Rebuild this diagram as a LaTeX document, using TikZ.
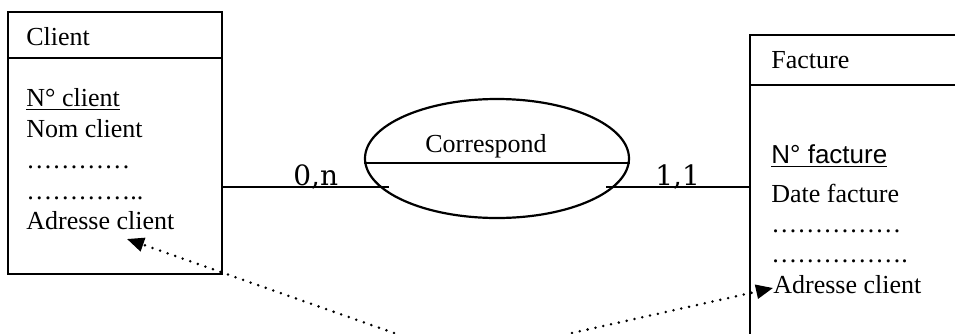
\documentclass[tikz,border=0pt]{standalone}
\usepackage{fontspec}
\setmainfont{Liberation Serif}
\newfontfamily\arialfont{Liberation Sans}
\newfontfamily\cardfont{DejaVu Serif}
\usetikzlibrary{arrows.meta, shapes.geometric}

\begin{document}
\begin{tikzpicture}[x=0.5pt, y=-0.5pt,
    entity/.style={rectangle, draw, line width=1.1pt, inner sep=0pt, anchor=north west},
    attr/.style={anchor=base west, inner sep=0pt, font=\fontsize{13}{15}\selectfont},
    card/.style={anchor=base west, inner sep=0pt, font=\cardfont\fontsize{14}{16}\selectfont},
    link/.style={line width=1.1pt},
    ref/.style={line width=1.4pt, line cap=round, dash pattern=on 0pt off 4pt,
        -{Triangle[length=8.5pt, width=7pt]}}]
    \useasboundingbox (0,0) rectangle (955,333);
    \clip (0,0) rectangle (955,333);

    % entities
    \node (client) [entity, minimum width=107pt, minimum height=131pt] at (7,11) {};
    \node (facture) [entity, minimum width=150pt, minimum height=200pt] at (749,34) {};
    \draw[link] (client.west |- 0,58) -- (client.east |- 0,58);
    \draw[link] (facture.west |- 0,85) -- (facture.east |- 0,85);

    \node (ctitle) [attr] at (26,45) {Client};
    \node (cnum)   [attr] at (26,106) {\underline{N° client}};
    \node (cnom)   [attr] at (26,137) {Nom client};
    \node (cdot1)  [attr] at (26,168) {…………};
    \node (cdot2)  [attr] at (26,199) {…………..};
    \node (cadr)   [attr] at (26,229) {Adresse client};

    \node (ftitle) [attr] at (771,68) {Facture};
    \node (fnum)   [attr, font=\arialfont\fontsize{13}{15}\selectfont] at (771,163) {\underline{N° facture}};
    \node (fdate)  [attr] at (771,202) {Date facture};
    \node (fdot1)  [attr] at (771,232) {……………};
    \node (fdot2)  [attr] at (771,262) {…………….};
    \node (fadr)   [attr] at (773,293) {Adresse client};

    % relation
    \node (rel) [ellipse, draw, line width=1.1pt, inner sep=0pt,
        minimum width=132pt, minimum height=59.5pt] at (497,158.5) {};
    \draw[link] (rel.west |- 0,163) -- (rel.east |- 0,163);
    \node (relname) [attr, anchor=base] at (486,152) {Correspond};

    \coordinate (lend) at (389,187);
    \coordinate (rend) at (606,187);
    \draw[link] (client.east |- lend) -- (lend);
    \draw[link] (rend) -- (facture.west |- rend);
    \node (cardc) [card] at (293,185) {0,n};
    \node (cardf) [card] at (655,185) {1,1};

    % references
    \coordinate (lfoot) at (394,333);
    \coordinate (ltip) at (127,239);
    \coordinate (rfoot) at (572,333);
    \coordinate (rtip) at (773,288);
    \draw[ref] (lfoot) -- (ltip);
    \draw[ref] (rfoot) -- (rtip);
\end{tikzpicture}
\end{document}
